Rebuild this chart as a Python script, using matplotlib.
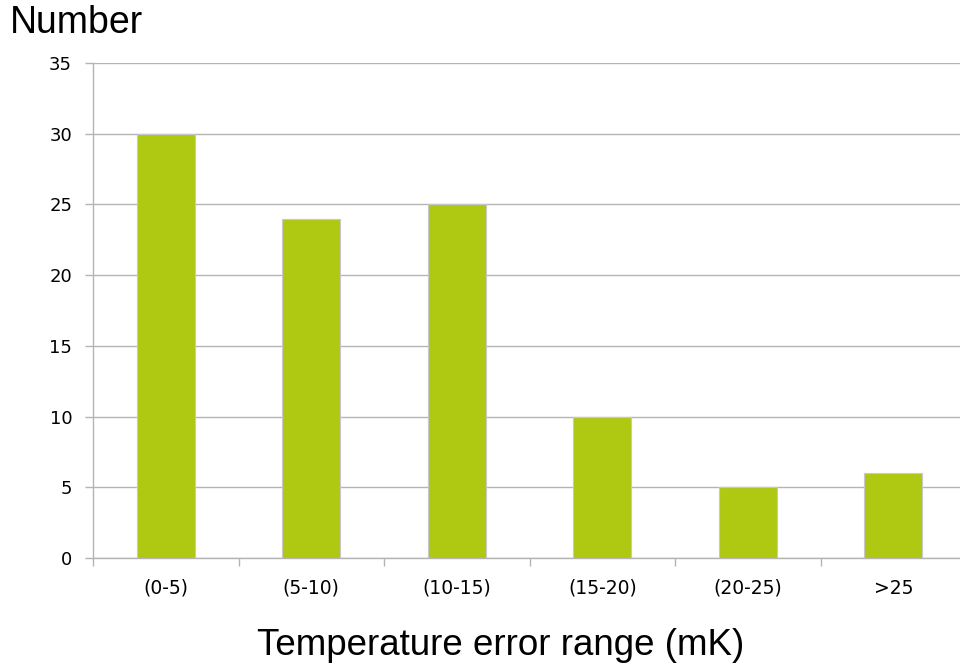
import matplotlib
matplotlib.use("Agg")
from matplotlib import pyplot as plt
import numpy as np

# データ
categories = ["(0-5)", "(5-10)", "(10-15)", "(15-20)", "(20-25)", ">25"]
counts = [30, 24, 25, 10, 5, 6]
y_ticks = [0, 5, 10, 15, 20, 25, 30, 35]

bar_color = "#afc812"
grid_color = "#b4b4b4"

fig = plt.figure(figsize=(9.6, 6.68), dpi=100)
ax = fig.add_axes([93 / 960, 110 / 668, 873 / 960, 495 / 668])

x = np.arange(len(categories))
ax.bar(x, counts, width=0.4, color=bar_color, edgecolor="#c8c8c8", linewidth=0.8, zorder=3)

ax.set_xlim(-0.5, len(categories) - 0.5)
ax.set_ylim(0, 35)
ax.set_yticks(y_ticks)
ax.yaxis.grid(True, color=grid_color, linewidth=1.0, zorder=0)
ax.set_axisbelow(True)

# 軸
for s in ["top", "right"]:
    ax.spines[s].set_visible(False)
for s in ["left", "bottom"]:
    ax.spines[s].set_color(grid_color)
    ax.spines[s].set_linewidth(1.0)

ax.set_xticks(x)
ax.set_xticklabels(categories)
ax.set_xticks(np.arange(-0.5, len(categories), 1.0), minor=True)
ax.tick_params(axis="x", which="major", length=0, pad=15, labelsize=13.5)
ax.tick_params(axis="x", which="minor", length=6, color=grid_color, width=1.0)
ax.tick_params(axis="y", length=6, color=grid_color, width=1.0, pad=9, labelsize=13)

fig.text(10 / 960, 1 - 33 / 668, "Number", fontsize=27, family="Liberation Sans",
         ha="left", va="baseline")
fig.text(501 / 960, 1 - 655 / 668, "Temperature error range (mK)", fontsize=26.5,
         family="Liberation Sans", ha="center", va="baseline")

fig.savefig("out.png", dpi=100)
